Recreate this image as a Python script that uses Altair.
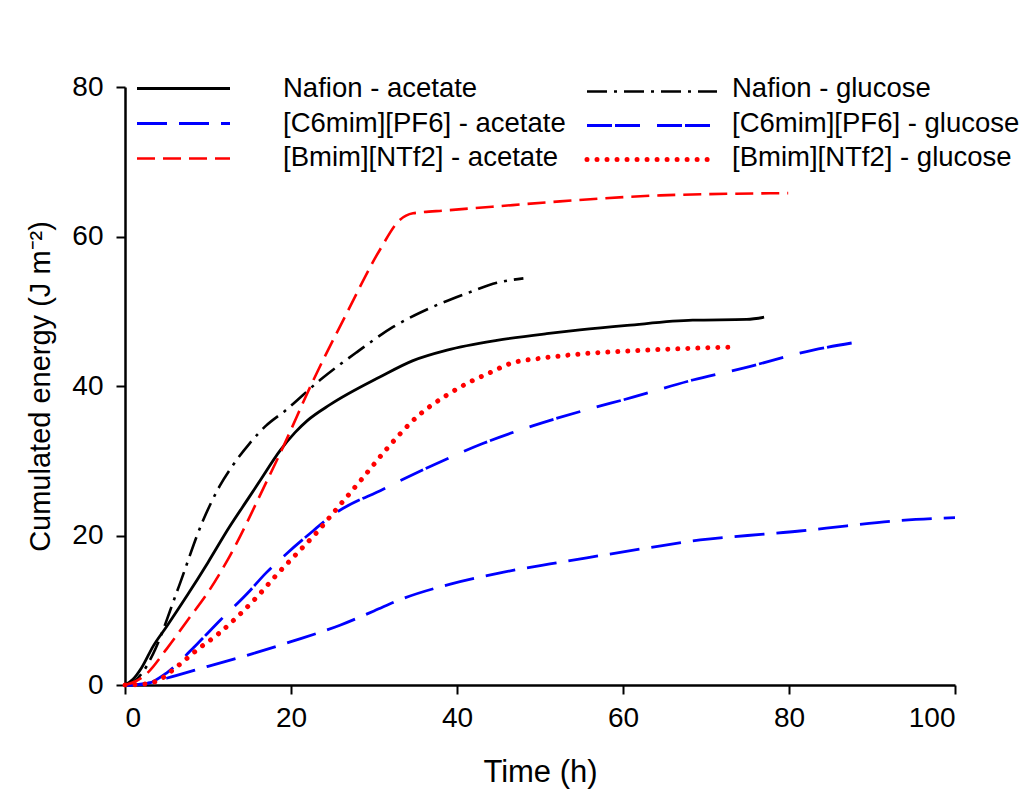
import altair as alt
import pandas as pd

# ---- data ----
series_names = [
    "Nafion - acetate",
    "Nafion - glucose",
    "[C6mim][PF6] - acetate",
    "[C6mim][PF6] - glucose",
    "[Bmim][NTf2] - acetate",
    "[Bmim][NTf2] - glucose",
]

nafion_acetate_t = [0, 1, 2, 3.4, 5, 7.5, 10, 12.5, 15, 16.3, 18.7, 20.5, 22, 24.7, 30.7, 34.7, 38.8, 44.8, 50.8, 54.8, 60.5, 68.4, 74.9, 77]
nafion_acetate_e = [0, 0.8, 2.3, 5.2, 7.8, 12.0, 16.4, 21.0, 25.2, 27.4, 31.4, 33.8, 35.4, 37.5, 41.2, 43.4, 44.8, 46.1, 47.0, 47.5, 48.1, 48.8, 48.9, 49.2]

nafion_glucose_t = [0, 1, 2, 3.4, 6.3, 9.4, 11.4, 13, 15, 17, 19.3, 23.5, 27.9, 32.3, 36.7, 41.2, 44.8, 48]
nafion_glucose_e = [0, 0.4, 1.5, 4.2, 12.6, 22.0, 26.6, 29.4, 32.3, 34.7, 36.7, 40.8, 44.5, 47.9, 50.4, 52.4, 53.8, 54.4]

c6_acetate_t = [0, 2, 4, 5, 10, 15.4, 20, 25.9, 30, 33.1, 39.2, 45.2, 51.2, 57.2, 63.3, 69.3, 75, 81.3, 87, 93.4, 100]
c6_acetate_e = [0, 0.1, 0.6, 0.9, 2.5, 4.2, 5.8, 8.0, 9.9, 11.4, 13.5, 15.0, 16.2, 17.3, 18.4, 19.4, 20.0, 20.6, 21.3, 22.0, 22.4]

c6_glucose_t = [0, 2, 3, 5, 8.7, 11.5, 14.7, 17, 19.5, 22, 25.1, 31.1, 37.1, 43.1, 49.2, 55.2, 61.2, 68.4, 74.5, 82.9, 88.9]
c6_glucose_e = [0, 0.1, 0.3, 1.6, 5.5, 8.7, 12.2, 15.0, 17.6, 20.0, 22.8, 26.2, 29.4, 32.3, 34.7, 36.7, 38.5, 40.8, 42.4, 44.8, 46.0]

bmim_acetate_t = [0, 1.3, 2.6, 5, 7.5, 10, 12.3, 17.1, 18.7, 22.7, 26.7, 30.7, 33.1, 34.7, 38.8, 46.7, 52.4, 64.5, 79.9]
bmim_acetate_e = [0, 0.5, 1.5, 4.8, 8.6, 12.4, 16.6, 27.3, 31.0, 40.8, 49.7, 58.2, 62.2, 63.1, 63.5, 64.2, 64.7, 65.5, 65.8]

bmim_glucose_t = [0, 2, 3.8, 6.3, 8.8, 11.2, 13.6, 16, 18.4, 20.8, 23.1, 25.3, 28.5, 31.7, 35.2, 38.8, 41.3, 44, 46.4, 50, 54, 62.9, 72.9]
bmim_glucose_e = [0, 0.1, 0.5, 2.5, 4.8, 6.8, 9.2, 11.9, 14.9, 17.7, 20.4, 23.3, 27.5, 31.8, 35.9, 38.8, 40.4, 41.8, 43.0, 43.7, 44.2, 44.8, 45.2]

x_ticks = [0, 20, 40, 60, 80, 100]
y_ticks = [0, 20, 40, 60, 80]

all_t = [nafion_acetate_t, nafion_glucose_t, c6_acetate_t, c6_glucose_t, bmim_acetate_t, bmim_glucose_t]
all_e = [nafion_acetate_e, nafion_glucose_e, c6_acetate_e, c6_glucose_e, bmim_acetate_e, bmim_glucose_e]

rows = []
for name, ts, es in zip(series_names, all_t, all_e):
    for t, e in zip(ts, es):
        rows.append({"series": name, "t": t, "e": e})
df = pd.DataFrame(rows)

# ---- styles ----
colors = ["black", "black", "#0000ff", "#0000ff", "#ff0000", "#ff0000"]
dashes = [None, [20, 7, 3, 7], [30, 12], [25, 3, 25, 17], [18, 8], [0.01, 10]]
widths = [2.8, 2.6, 2.8, 2.8, 2.6, 5]
caps = ["butt", "butt", "butt", "butt", "butt", "round"]

W, H = 830, 598
xs = alt.Scale(domain=[0, 100], nice=False, zero=True)
ys = alt.Scale(domain=[0, 80], nice=False, zero=True)

layers = []
for i, name in enumerate(series_names):
    kw = dict(color=colors[i], strokeWidth=widths[i], strokeCap=caps[i], clip=False,
              interpolate="monotone")
    if dashes[i] is not None:
        kw["strokeDash"] = dashes[i]
    enc = dict(
        x=alt.X("t:Q", scale=xs,
                axis=alt.Axis(values=x_ticks, title="Time (h)", titlePadding=25,
                              labelPadding=10, titleFontSize=31)),
        y=alt.Y("e:Q", scale=ys,
                axis=alt.Axis(values=y_ticks, title="Cumulated energy (J m⁻²)",
                              titlePadding=16, labelPadding=13, titleFontSize=29)),
        order="t:Q",
    )
    layers.append(
        alt.Chart(df).transform_filter(alt.datum.series == name).mark_line(**kw).encode(**enc)
    )

# ---- manual legend (two columns, three rows) ----
for i, name in enumerate(series_names):
    col = i % 2
    row = i // 2
    if col == 0:
        x1, x2, tx = 12, 105, 158
        ly = 1.5 + 35 * row
    else:
        x1, x2, tx = 462, 592, 607
        ly = 4.5 + 34 * row
    ty = 2 + 34.5 * row
    kw = dict(color=colors[i], strokeWidth=widths[i], strokeCap=caps[i])
    if dashes[i] is not None:
        kw["strokeDash"] = dashes[i]
    ldf = pd.DataFrame({"label": [name]})
    layers.append(
        alt.Chart(ldf).mark_rule(**kw).encode(
            x=alt.value(x1), x2=alt.value(x2), y=alt.value(ly)
        )
    )
    layers.append(
        alt.Chart(ldf).mark_text(
            align="left", baseline="middle", font="Liberation Sans", fontSize=27.5, color="black"
        ).encode(x=alt.value(tx), y=alt.value(ty), text="label:N")
    )

chart = alt.layer(*layers).properties(
    width=W, height=H,
    autosize=alt.AutoSizeParams(type="none"),
    padding={"left": 117, "top": 79, "right": 68, "bottom": 104},
    background="white",
).configure_view(stroke=None).configure_axis(
    grid=False,
    domainColor="black",
    domainWidth=2.5,
    tickColor="black",
    tickWidth=2,
    tickSize=9,
    labelFont="Liberation Sans",
    labelFontSize=28,
    labelColor="black",
    titleFont="Liberation Sans",
    titleFontWeight="normal",
    titleColor="black",
)

chart.save("out.html", embed_options={"renderer": "svg", "actions": False})
